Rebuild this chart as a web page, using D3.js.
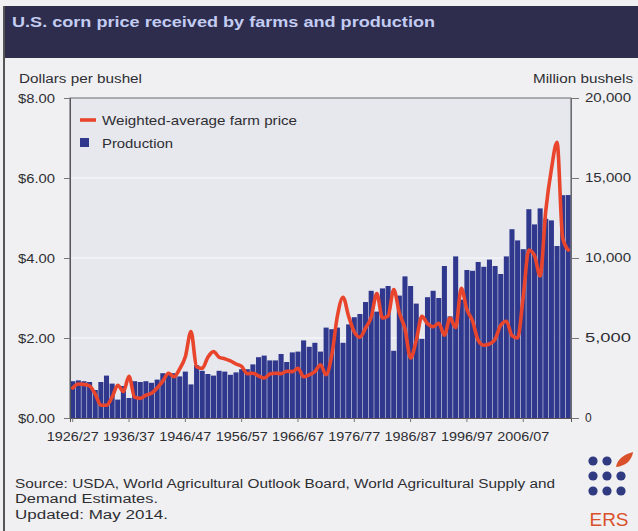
<!DOCTYPE html>
<html><head><meta charset="utf-8">
<script src="https://cdn.jsdelivr.net/npm/d3@7"></script>
<style>
html,body{margin:0;padding:0;background:#f0f0f2;}
svg{display:block;font-family:"Liberation Sans",Arial,sans-serif;}
</style></head>
<body><svg id="c" width="638" height="531"></svg>
<script>
const years = ["1926/27","1927/28","1928/29","1929/30","1930/31","1931/32","1932/33","1933/34","1934/35","1935/36",
"1936/37","1937/38","1938/39","1939/40","1940/41","1941/42","1942/43","1943/44","1944/45","1945/46",
"1946/47","1947/48","1948/49","1949/50","1950/51","1951/52","1952/53","1953/54","1954/55","1955/56",
"1956/57","1957/58","1958/59","1959/60","1960/61","1961/62","1962/63","1963/64","1964/65","1965/66",
"1966/67","1967/68","1968/69","1969/70","1970/71","1971/72","1972/73","1973/74","1974/75","1975/76",
"1976/77","1977/78","1978/79","1979/80","1980/81","1981/82","1982/83","1983/84","1984/85","1985/86",
"1986/87","1987/88","1988/89","1989/90","1990/91","1991/92","1992/93","1993/94","1994/95","1995/96",
"1996/97","1997/98","1998/99","1999/00","2000/01","2001/02","2002/03","2003/04","2004/05","2005/06",
"2006/07","2007/08","2008/09","2009/10","2010/11","2011/12","2012/13","2013/14","2014/15"];
const tickLabels = ["1926/27","1936/37","1946/47","1956/57","1966/67","1976/77","1986/87","1996/97","2006/07"];
const production = [2300,2350,2300,2250,1750,2250,2650,2150,1150,2000,
1250,2300,2250,2300,2200,2400,2800,2700,2800,2600,
2900,2100,3300,2950,2750,2650,2950,2900,2700,2850,
3050,3050,3350,3800,3900,3600,3600,4000,3500,4100,
4150,4850,4450,4700,4150,5650,5550,5650,4700,5850,
6300,6500,7250,7950,6650,8100,8250,4200,7650,8850,
8250,7150,4950,7550,7950,7500,9500,6350,10100,7400,
9250,9200,9750,9450,9900,9500,9000,10100,11800,11100,
10550,13050,12100,13100,12450,12350,10750,13925,13935];
const price = [0.75,0.85,0.84,0.80,0.60,0.32,0.32,0.52,0.82,0.66,
1.04,0.52,0.49,0.57,0.62,0.75,0.92,1.12,1.03,1.23,
1.53,2.16,1.28,1.24,1.52,1.66,1.52,1.48,1.43,1.35,
1.29,1.11,1.12,1.05,1.00,1.10,1.12,1.11,1.17,1.16,
1.24,1.03,1.08,1.16,1.33,1.08,1.57,2.55,3.02,2.54,
2.15,2.02,2.25,2.52,3.11,2.50,2.55,3.21,2.63,2.23,
1.50,1.94,2.54,2.36,2.28,2.37,2.07,2.50,2.26,3.24,
2.71,2.43,1.94,1.82,1.85,1.97,2.32,2.42,2.06,2.00,
3.04,4.20,4.06,3.55,5.18,6.22,6.89,4.50,4.20];
const priceTicks = [0,2,4,6,8];
const prodTicks = [0,5000,10000,15000,20000];

const svg = d3.select("#c");
const L = 70, R = 571, T = 98, B = 418;
const TXT = "#2e2e33";

// header
svg.append("rect").attr("x",4).attr("y",6).attr("width",634).attr("height",52).attr("fill","#2e2d4d");
svg.append("text").attr("x",12).attr("y",26.5).attr("fill","#c3ccf2").attr("font-size",14).attr("font-weight","bold")
  .attr("textLength",423).attr("lengthAdjust","spacingAndGlyphs")
  .text("U.S. corn price received by farms and production");
// frame
svg.append("line").attr("x1",4).attr("x2",4).attr("y1",6).attr("y2",531).attr("stroke","#555").attr("stroke-width",2);

const x = d3.scaleBand().domain(years).range([L,R]).paddingInner(0.1).paddingOuter(0.03);
const yP = d3.scaleLinear().domain([0,8]).range([B,T]);
const yQ = d3.scaleLinear().domain([0,20000]).range([B,T]);

svg.append("rect").attr("x",L).attr("y",T).attr("width",R-L).attr("height",B-T).attr("fill","#e7e8ed");
// grid
svg.append("g").selectAll("line").data(priceTicks.slice(1,4)).join("line")
  .attr("x1",L).attr("x2",R).attr("y1",d=>yP(d)).attr("y2",d=>yP(d)).attr("stroke","#fbfbfd").attr("stroke-width",1.2);

// bars
svg.append("g").selectAll("rect").data(production).join("rect")
  .attr("x",(d,i)=>x(years[i])).attr("width",x.bandwidth())
  .attr("y",d=>yQ(d)).attr("height",d=>B-yQ(d)).attr("fill","#30388e");

// line
const line = d3.line().x((d,i)=>x(years[i])+x.bandwidth()/2).y(d=>yP(d)).curve(d3.curveMonotoneX);
svg.append("path").datum(price).attr("d",line).attr("fill","none").attr("stroke","#e8452c")
  .attr("stroke-width",3.6).attr("stroke-linejoin","round").attr("stroke-linecap","round");

// plot border
svg.append("path").attr("d",`M${L},${B}V${T}H${R}V${B}`).attr("fill","none").attr("stroke","#6a6a72").attr("stroke-width",1.2);

// left axis
const axL = svg.append("g").attr("transform",`translate(${L},0)`)
  .call(d3.axisLeft(yP).tickValues(priceTicks).tickSize(6).tickFormat(d=>"$"+d3.format(".2f")(d)));
axL.select(".domain").attr("stroke","#555");
axL.selectAll(".tick line").attr("stroke","#777");
axL.selectAll("text").attr("font-size",12).attr("fill",TXT).attr("x",-52).attr("text-anchor","start").attr("dy","0.35em")
  .attr("textLength",37).attr("lengthAdjust","spacingAndGlyphs");

// right axis
const axR = svg.append("g").attr("transform",`translate(${R},0)`)
  .call(d3.axisRight(yQ).tickValues(prodTicks).tickSize(8).tickFormat(d3.format(",")));
axR.select(".domain").attr("stroke","#6a6a72");
axR.selectAll(".tick line").attr("stroke","#777");
axR.selectAll("text").attr("font-size",12).attr("fill",TXT).attr("x",14)
  .each(function(d){ if(d>0) d3.select(this).attr("textLength",46).attr("lengthAdjust","spacingAndGlyphs"); });

// bottom axis
const axB = svg.append("g").attr("transform",`translate(0,${B})`)
  .call(d3.axisBottom(x).tickValues(tickLabels).tickSize(4));
axB.select(".domain").attr("stroke","#555");
axB.selectAll(".tick line").attr("stroke","#777");
axB.selectAll("text").attr("font-size",12).attr("fill",TXT).attr("y",23).attr("dy",0)
  .attr("textLength",52).attr("lengthAdjust","spacingAndGlyphs");

// axis titles
svg.append("text").attr("x",19).attr("y",82.5).attr("font-size",12).attr("fill",TXT)
  .attr("textLength",123).attr("lengthAdjust","spacingAndGlyphs").text("Dollars per bushel");
svg.append("text").attr("x",533).attr("y",83).attr("font-size",12).attr("fill",TXT)
  .attr("textLength",100).attr("lengthAdjust","spacingAndGlyphs").text("Million bushels");

// legend
svg.append("line").attr("x1",80).attr("x2",96).attr("y1",120).attr("y2",120).attr("stroke","#e8452c").attr("stroke-width",3.6);
svg.append("text").attr("x",102).attr("y",125).attr("font-size",13).attr("fill",TXT)
  .attr("textLength",195).attr("lengthAdjust","spacingAndGlyphs").text("Weighted-average farm price");
svg.append("rect").attr("x",80).attr("y",138).attr("width",9).attr("height",9).attr("fill","#30388e");
svg.append("text").attr("x",102).attr("y",147.5).attr("font-size",13).attr("fill",TXT)
  .attr("textLength",71).attr("lengthAdjust","spacingAndGlyphs").text("Production");

// source
const src = ["Source: USDA, World Agricultural Outlook Board, World Agricultural Supply and","Demand Estimates.","Updated: May 2014."];
const srcW = [540,143,153];
svg.append("g").selectAll("text").data(src).join("text").attr("x",15).attr("y",(d,i)=>487.5+i*15.5)
  .attr("font-size",12).attr("fill",TXT).attr("textLength",(d,i)=>srcW[i]).attr("lengthAdjust","spacingAndGlyphs").text(d=>d);

// ERS logo
const lg = svg.append("g");
const dots = [[0,0],[1,0],[0,1],[1,1],[2,1],[0,2],[1,2],[2,2]];
lg.selectAll("circle").data(dots).join("circle").attr("cx",d=>593+d[0]*14).attr("cy",d=>461+d[1]*15).attr("r",4.6).attr("fill","#2f3a80");
lg.append("path").attr("d","M616,467 C617,459 625,454 633,452 C632,460 626,466 616,467Z").attr("fill","#d9502b");
lg.append("text").attr("x",609).attr("y",526).attr("text-anchor","middle").attr("font-size",19).attr("fill","#d9502b").text("ERS");
</script></body></html>
